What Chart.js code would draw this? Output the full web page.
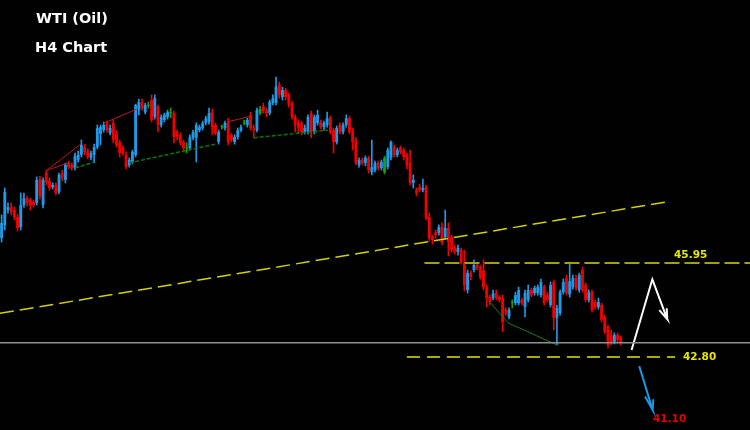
<!DOCTYPE html>
<html>
<head>
<meta charset="utf-8">
<title>WTI (Oil) H4 Chart</title>
<script src="https://cdn.jsdelivr.net/npm/chart.js@4.4.1/dist/chart.umd.min.js"></script>
<style>
  html, body { margin: 0; padding: 0; background: #000; }
  #wrap { width: 750px; height: 430px; }
</style>
</head>
<body>
<div id="wrap"><canvas id="myChart" width="750" height="430"></canvas></div>
<script>
// H4 candles, oldest first
var opens = [
  46.78,47.22,47.72,47.82,47.72,47.49,47.15,47.89,48.12,48.06,
  47.99,47.96,48.76,47.89,48.96,48.69,48.49,48.56,48.33,48.96,
  48.73,49.30,49.23,49.13,49.40,49.57,49.83,49.70,49.47,49.57,
  49.83,50.27,50.40,50.60,50.30,50.64,50.30,50.00,49.80,49.57,
  49.23,49.33,49.57,51.07,51.34,51.00,51.22,51.41,50.84,51.17,
  50.57,50.74,50.84,50.97,50.97,50.34,50.24,50.00,49.79,49.80,
  50.14,50.14,50.40,50.47,50.64,50.67,51.00,50.57,50.00,50.50,
  50.47,50.67,50.24,50.00,50.17,50.40,50.63,50.57,50.91,50.45,
  50.40,50.97,51.20,51.07,50.97,51.30,51.31,51.91,51.51,51.74,
  51.58,51.30,50.84,50.67,50.64,50.34,50.34,50.97,50.34,50.64,
  50.67,50.50,50.57,50.80,50.40,50.00,50.57,50.34,50.57,50.80,
  50.40,50.07,49.23,49.40,49.30,49.47,48.99,49.06,49.30,49.13,
  48.99,49.16,49.47,49.83,49.57,49.80,49.73,49.57,49.30,48.63,
  48.39,48.49,48.39,48.49,47.49,46.82,46.98,46.95,47.15,46.82,
  47.12,46.82,46.48,46.31,46.38,45.98,45.04,45.61,45.71,45.88,
  45.81,45.71,45.14,44.81,44.77,44.94,44.81,44.77,44.37,44.14,
  44.60,44.60,44.60,44.71,44.47,44.71,45.04,44.94,44.94,44.87,
  45.14,44.87,44.54,45.31,44.11,44.27,44.97,45.44,44.90,45.14,
  45.44,45.04,45.71,45.21,44.71,44.97,44.64,44.47,44.54,44.14,
  43.80,43.53,43.30,43.53,43.43
];
var highs = [
  47.56,48.46,47.96,47.96,47.82,47.59,48.29,48.29,48.19,48.12,
  48.06,48.83,48.86,48.80,49.06,48.80,48.63,48.63,48.96,49.06,
  49.30,49.36,49.30,49.63,49.70,50.07,49.93,49.77,49.70,49.93,
  50.57,50.57,50.67,50.70,50.57,50.74,50.40,50.07,49.87,49.67,
  49.47,49.73,51.27,51.44,51.44,51.30,51.34,51.58,51.58,51.24,
  50.91,50.97,51.07,51.14,51.04,50.40,50.30,50.07,49.97,50.24,
  50.40,50.64,50.57,50.70,50.87,51.14,51.10,50.64,50.40,50.57,
  50.70,50.80,50.30,50.24,50.47,50.57,50.74,50.80,51.00,50.57,
  51.14,51.20,51.30,51.14,51.41,51.58,52.18,52.01,51.84,51.80,
  51.64,51.37,50.91,50.74,50.70,50.57,50.91,51.04,50.91,51.07,
  50.74,50.70,51.00,50.87,50.47,50.54,50.64,50.64,50.91,50.87,
  50.47,50.14,49.47,49.47,49.53,49.53,50.07,49.36,49.36,49.40,
  49.53,49.80,50.04,49.90,49.80,49.87,49.80,49.63,49.73,48.90,
  48.46,48.59,48.76,48.56,47.62,46.88,47.05,47.22,47.29,47.72,
  47.29,46.88,46.55,46.55,46.45,46.38,45.71,45.68,46.05,45.95,
  45.88,46.05,45.21,44.87,45.04,45.04,44.87,44.87,44.44,44.44,
  44.71,44.97,45.14,44.77,45.04,45.21,45.11,45.17,45.21,45.41,
  45.21,44.97,45.31,45.38,44.54,45.04,45.41,45.54,45.98,45.54,
  45.54,45.61,45.81,45.28,45.04,45.04,44.71,44.77,44.60,44.20,
  43.87,43.70,43.60,43.60,43.50
];
var lows = [
  46.65,47.05,47.62,47.56,47.39,47.02,47.05,47.82,47.86,47.72,
  47.82,47.89,48.09,47.79,48.56,48.39,48.43,48.23,48.26,48.70,
  48.63,49.10,49.06,49.06,49.33,49.50,49.57,49.43,49.40,49.30,
  49.77,49.90,50.33,50.33,50.24,49.97,49.83,49.50,49.57,49.10,
  49.16,49.27,49.50,50.91,51.07,50.94,51.14,50.67,50.77,50.34,
  50.50,50.67,50.77,50.81,49.97,50.07,49.90,49.73,49.63,49.73,
  50.07,49.33,50.34,50.40,50.57,50.60,50.24,50.24,49.93,50.44,
  50.40,49.90,50.00,49.93,50.10,50.34,50.57,50.50,50.40,50.14,
  50.34,50.91,50.97,50.84,50.91,51.24,51.24,51.47,51.41,51.41,
  51.17,50.77,50.34,50.30,50.24,50.27,50.27,50.14,50.27,50.57,
  50.44,50.40,50.50,50.27,49.63,49.93,50.27,50.27,50.50,50.27,
  49.73,49.23,49.16,49.23,49.20,48.96,48.90,49.00,49.06,49.06,
  48.93,49.10,49.40,49.50,49.50,49.60,49.40,49.10,48.56,48.46,
  48.19,48.33,48.33,47.39,46.68,46.58,46.78,46.88,46.55,46.75,
  46.18,46.31,46.24,46.21,45.91,45.01,44.94,45.38,45.64,45.71,
  45.41,45.04,44.47,44.54,44.71,44.71,44.64,43.64,44.20,44.07,
  44.44,44.54,44.54,44.54,44.14,44.64,44.81,44.87,44.87,44.81,
  44.54,44.64,44.47,43.70,43.20,44.20,44.90,44.87,44.80,45.07,
  45.04,44.97,44.97,44.64,44.64,44.30,44.40,44.40,43.97,43.57,
  43.10,43.20,43.23,43.30,43.20
];
var closes = [
  47.29,48.33,47.82,47.66,47.49,47.12,47.89,48.12,47.96,47.89,
  47.89,48.73,48.19,48.73,48.66,48.46,48.56,48.29,48.90,48.80,
  49.23,49.16,49.13,49.53,49.57,49.90,49.67,49.50,49.63,49.83,
  50.47,50.50,50.57,50.40,50.47,50.07,49.90,49.63,49.63,49.16,
  49.40,49.67,51.24,51.34,51.14,51.24,51.25,50.74,51.47,50.57,
  50.84,50.91,51.00,50.99,50.17,50.17,49.97,49.80,49.81,50.17,
  50.34,50.57,50.50,50.64,50.80,50.97,50.50,50.30,50.34,50.52,
  50.64,50.00,50.07,50.17,50.40,50.50,50.65,50.74,50.47,50.40,
  51.07,51.10,51.04,50.97,51.34,51.47,51.86,51.58,51.74,51.51,
  51.24,50.84,50.57,50.47,50.34,50.47,50.84,50.34,50.84,50.91,
  50.50,50.64,50.80,50.34,50.00,50.47,50.34,50.57,50.80,50.34,
  50.00,49.30,49.40,49.30,49.47,49.06,49.16,49.30,49.13,49.33,
  49.47,49.73,50.00,49.57,49.73,49.67,49.50,49.23,48.63,48.73,
  48.29,48.39,48.46,47.45,46.78,46.72,46.88,47.15,46.62,47.12,
  46.65,46.38,46.31,46.45,45.98,45.21,45.61,45.48,45.88,45.78,
  45.48,45.14,44.77,44.64,44.94,44.77,44.71,43.97,44.27,44.37,
  44.63,44.87,45.04,44.60,44.94,45.04,44.87,45.11,45.14,45.31,
  44.60,44.71,45.21,44.11,44.44,44.97,45.31,44.94,45.34,45.44,
  45.11,45.54,45.04,44.71,44.97,44.37,44.47,44.64,44.04,43.64,
  43.20,43.30,43.53,43.37,43.27
];
// bars painted green on the terminal
var signalBars = [46, 53, 58, 69, 76, 81, 120, 160];

// drawn objects, as [bar index, price]
var redTrends = [
  [[14, 49.04], [25, 49.95]],
  [[14, 49.04], [20.5, 49.29]],
  [[32, 50.63], [42.3, 51.10]],
  [[71, 50.68], [77.5, 50.85]]
];
var greenTrends = [
  [[23, 49.13], [29, 49.33]],
  [[40, 49.30], [67, 49.93]],
  [[79, 50.14], [102.3, 50.40]]
];
var supportCurve = [[153, 44.64], [158.7, 43.94], [174, 43.20]];
var channelLine = [[-0.5, 44.26], [208.2, 47.99]];
var upperLevel = 45.95, lowerLevel = 42.80, targetLevel = 41.10, lastPrice = 43.27;
var upArrow = [[197.4, 43.03], [203.9, 45.40], [208.6, 44.06], [206.1, 44.37], [208.6, 44.06], [208.4, 44.43]];
var downArrow = [[199.8, 42.49], [204.0, 41.02], [201.6, 41.47], [204.0, 41.02], [204.2, 41.38]];

var slots = 235;
var BLUE = '#1e9ae8', RED = '#f00000', GREEN = '#12a012', YELLOW = '#e6e600';

var labels = [];
for (var i = 0; i < slots; i++) labels.push(i);

var colors = opens.map(function (o, i) {
    if (signalBars.indexOf(i) >= 0) return GREEN;
    return closes[i] >= o ? BLUE : RED;
});

function pts(arr) {
    return arr.map(function (p) { return { x: p[0], y: p[1] }; });
}

function lineSet(points, color, width, dash) {
    return {
        type: 'line',
        xAxisID: 'xl',
        data: pts(points),
        borderColor: color,
        borderWidth: width,
        borderDash: dash || [],
        pointRadius: 0,
        fill: false,
        tension: 0,
        order: 0
    };
}

var datasets = [
    {
        type: 'bar',
        data: lows.map(function (l, i) { return [l, highs[i]]; }),
        backgroundColor: colors,
        barThickness: 1,
        grouped: false,
        order: 2
    },
    {
        type: 'bar',
        data: opens.map(function (o, i) { return [o, closes[i]]; }),
        backgroundColor: colors,
        barPercentage: 0.9,
        categoryPercentage: 1,
        minBarLength: 1,
        grouped: false,
        order: 1
    },
    lineSet([[-0.5, lastPrice], [slots - 0.5, lastPrice]], '#909090', 1.5),
    lineSet(channelLine, '#d2d200', 1.5, [14, 6]),
    lineSet([[132.5, upperLevel], [slots - 0.5, upperLevel]], '#a0a010', 2, [15, 5]),
    lineSet([[127, lowerLevel], [211, lowerLevel]], YELLOW, 1.5, [13, 7]),
    lineSet(supportCurve, '#1c7a1c', 1),
    lineSet(upArrow, '#ffffff', 2),
    lineSet(downArrow, '#1e96e0', 2)
];
redTrends.forEach(function (t) { datasets.push(lineSet(t, '#c01818', 1)); });
greenTrends.forEach(function (t) { datasets.push(lineSet(t, '#0a780a', 1.5, [4, 2])); });

var notes = [
    { text: upperLevel.toFixed(2), x: 210.7, y: 46.22, color: YELLOW },
    { text: lowerLevel.toFixed(2), x: 213.5, y: lowerLevel, color: YELLOW },
    { text: targetLevel.toFixed(2), x: 204.1, y: 40.72, color: '#e80000' }
];

var textPlugin = {
    id: 'texts',
    beforeDraw: function (chart) {
        var ctx = chart.ctx;
        ctx.save();
        ctx.fillStyle = '#000';
        ctx.fillRect(0, 0, chart.width, chart.height);
        ctx.restore();
    },
    afterDraw: function (chart) {
        var ctx = chart.ctx;
        var xs = chart.scales.xl, ys = chart.scales.y;
        ctx.save();
        ctx.fillStyle = '#fff';
        ctx.textBaseline = 'middle';
        ctx.font = 'bold 14.5px "DejaVu Sans"';
        ctx.fillText('WTI (Oil)', 36, 19);
        ctx.fillText('H4 Chart', 35, 48);
        ctx.font = 'bold 10.5px "DejaVu Sans"';
        notes.forEach(function (n) {
            ctx.fillStyle = n.color;
            ctx.fillText(n.text, xs.getPixelForValue(n.x), ys.getPixelForValue(n.y));
        });
        ctx.restore();
    }
};

var ctx = document.getElementById('myChart').getContext('2d');
var myChart = new Chart(ctx, {
    type: 'bar',
    data: { labels: labels, datasets: datasets },
    options: {
        responsive: false,
        animation: false,
        devicePixelRatio: 1,
        events: [],
        layout: { padding: 0 },
        plugins: { legend: { display: false }, tooltip: { enabled: false } },
        scales: {
            x: { type: 'category', display: false, offset: true },
            xl: { type: 'linear', display: false, offset: false, min: -0.5, max: slots - 0.5 },
            y: { type: 'linear', display: false, min: 40.35, max: 54.76 }
        }
    },
    plugins: [textPlugin]
});
</script>
</body>
</html>
